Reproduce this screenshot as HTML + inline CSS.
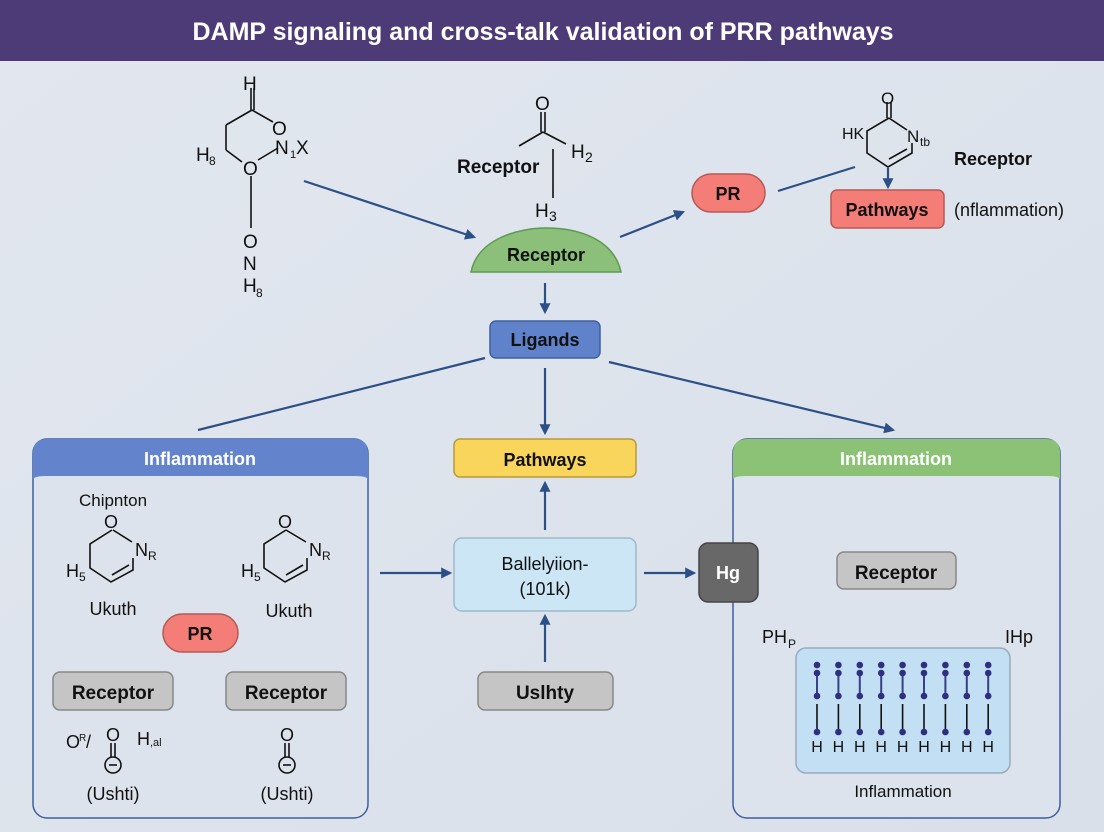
<!DOCTYPE html>
<html><head><meta charset="utf-8"><style>
html,body{margin:0;padding:0;width:1104px;height:832px;overflow:hidden;background:#dfe5ee;}
svg{display:block;font-family:"Liberation Sans",sans-serif;}
.b{font-weight:bold;}
</style></head><body>
<svg width="1104" height="832" viewBox="0 0 1104 832" xmlns="http://www.w3.org/2000/svg">
<defs>
<marker id="a" viewBox="0 0 10 10" refX="8" refY="5" markerWidth="5" markerHeight="5" orient="auto"><path d="M0,0L10,5L0,10z" fill="#2c4f86"/></marker>
<linearGradient id="bg" x1="0" y1="0" x2="1" y2="1"><stop offset="0" stop-color="#e2e7ef"/><stop offset="1" stop-color="#d9e0ea"/></linearGradient>
</defs>
<rect x="0" y="0" width="1104" height="832" fill="url(#bg)"/>
<rect x="0" y="0" width="1104" height="61" fill="#4d3b78"/>
<text x="543" y="40" text-anchor="middle" fill="#fff" font-size="25" class="b">DAMP signaling and cross-talk validation of PRR pathways</text>

<g stroke="#2c4f86" stroke-width="2.2" fill="none">
<line x1="304" y1="181" x2="474" y2="237" marker-end="url(#a)"/>
<line x1="620" y1="237" x2="683" y2="212" marker-end="url(#a)"/>
<line x1="778" y1="191" x2="855" y2="167"/>
<line x1="888" y1="168" x2="888" y2="187" marker-end="url(#a)"/>
<line x1="545" y1="283" x2="545" y2="312" marker-end="url(#a)"/>
<line x1="485" y1="358" x2="198" y2="430"/>
<line x1="545" y1="368" x2="545" y2="433" marker-end="url(#a)"/>
<line x1="609" y1="362" x2="893" y2="430" marker-end="url(#a)"/>
<line x1="545" y1="530" x2="545" y2="483" marker-end="url(#a)"/>
<line x1="545" y1="662" x2="545" y2="616" marker-end="url(#a)"/>
<line x1="380" y1="573" x2="450" y2="573" marker-end="url(#a)"/>
<line x1="644" y1="573" x2="694" y2="573" marker-end="url(#a)"/>
<line x1="902" y1="607" x2="902" y2="646" marker-end="url(#a)"/>
<line x1="113" y1="636" x2="113" y2="667" marker-end="url(#a)"/>
<line x1="287" y1="636" x2="287" y2="667" marker-end="url(#a)"/>
</g>

<!-- top left molecule -->
<g stroke="#111" stroke-width="1.6" fill="none">
<line x1="251" y1="88" x2="251" y2="110"/><line x1="254" y1="88" x2="254" y2="110"/>
<line x1="252" y1="110" x2="273" y2="122"/>
<line x1="252" y1="110" x2="226" y2="125"/>
<line x1="226" y1="125" x2="226" y2="150"/>
<line x1="226" y1="150" x2="242" y2="162"/>
<line x1="258" y1="160" x2="278" y2="148"/>
<line x1="251" y1="176" x2="251" y2="228"/>
</g>
<g font-size="19" fill="#111">
<text x="243" y="90">H</text>
<text x="272" y="135">O</text>
<text x="275" y="154">N</text><text x="290" y="158" font-size="11">1</text><text x="296" y="154">X</text>
<text x="196" y="161">H</text><text x="209" y="165" font-size="12">8</text>
<text x="243" y="175">O</text>
<text x="243" y="248">O</text>
<text x="243" y="270">N</text>
<text x="243" y="292">H</text><text x="256" y="297" font-size="12">8</text>
</g>

<!-- top middle molecule -->
<g stroke="#111" stroke-width="1.6" fill="none">
<line x1="541" y1="112" x2="541" y2="132"/><line x1="545" y1="112" x2="545" y2="132"/>
<line x1="543" y1="132" x2="519" y2="146"/>
<line x1="543" y1="132" x2="566" y2="144"/>
<line x1="553" y1="149" x2="553" y2="198"/>
</g>
<g font-size="19" fill="#111">
<text x="535" y="110">O</text>
<text x="571" y="158">H</text><text x="585" y="162" font-size="14">2</text>
<text x="535" y="217">H</text><text x="549" y="221" font-size="14">3</text>
</g>
<text x="457" y="173" font-size="19" class="b" fill="#111">Receptor</text>

<path d="M471,272 C478,238 520,228 546,228 C580,228 614,240 621,272 Z" fill="#8bbf7a" stroke="#5e9a52" stroke-width="1.5"/>
<text x="546" y="261" text-anchor="middle" font-size="18" class="b" fill="#111">Receptor</text>

<rect x="490" y="321" width="110" height="37" rx="6" fill="#5f82ca" stroke="#3f5f9f" stroke-width="1.5"/>
<text x="545" y="346" text-anchor="middle" font-size="18" class="b" fill="#111">Ligands</text>

<!-- top right -->
<rect x="692" y="174" width="73" height="38" rx="19" fill="#f47d78" stroke="#b55a55" stroke-width="1.5"/>
<text x="728" y="200" text-anchor="middle" font-size="18" class="b" fill="#111">PR</text>
<g stroke="#111" stroke-width="1.6" fill="none">
<line x1="887" y1="102" x2="887" y2="118"/><line x1="891" y1="102" x2="891" y2="118"/>
<line x1="889" y1="118" x2="907" y2="130"/>
<polyline points="889,118 867,131 867,153 888,167 912,153 912,143"/>
<line x1="889" y1="159" x2="907" y2="149"/>
</g>
<g font-size="17" fill="#111">
<text x="881" y="104">O</text>
<text x="842" y="139" font-size="16">HK</text>
<text x="907" y="142">N</text><text x="920" y="146" font-size="12">tb</text>
</g>
<text x="954" y="165" font-size="18" class="b" fill="#111">Receptor</text>
<rect x="831" y="190" width="113" height="38" rx="6" fill="#f47d78" stroke="#b55a55" stroke-width="1.5"/>
<text x="887" y="216" text-anchor="middle" font-size="18" class="b" fill="#111">Pathways</text>
<text x="954" y="216" font-size="18" fill="#111">(nflammation)</text>

<!-- Left panel -->
<rect x="33" y="439" width="335" height="379" rx="14" fill="#dde3ec" stroke="#3f5f9f" stroke-width="1.5"/>
<path d="M33,480 L33,453 Q33,439 47,439 L354,439 Q368,439 368,453 L368,480 Q368,476 355,476 L46,476 Q33,476 33,480Z" fill="#6384cc"/>
<text x="200" y="465" text-anchor="middle" font-size="18" class="b" fill="#fff">Inflammation</text>
<text x="113" y="506" text-anchor="middle" font-size="17" fill="#111">Chipnton</text>
<g stroke="#111" stroke-width="1.6" fill="none">
<polyline points="113,530 132,542"/>
<polyline points="112,530 90,544 90,568 111,582 133,570 133,558"/>
<line x1="112" y1="575" x2="129" y2="565"/>
<polyline points="286,530 306,542"/>
<polyline points="286,530 264,544 264,568 285,582 307,570 307,558"/>
<line x1="286" y1="575" x2="303" y2="565"/>
</g>
<g font-size="18" fill="#111">
<text x="104" y="528">O</text><text x="135" y="556">N</text><text x="148" y="560" font-size="12">R</text>
<text x="66" y="577">H</text><text x="79" y="581" font-size="12">5</text>
<text x="278" y="528">O</text><text x="309" y="556">N</text><text x="322" y="560" font-size="12">R</text>
<text x="241" y="577">H</text><text x="254" y="581" font-size="12">5</text>
<text x="113" y="615" text-anchor="middle">Ukuth</text>
<text x="289" y="617" text-anchor="middle">Ukuth</text>
</g>
<rect x="163" y="614" width="75" height="38" rx="19" fill="#f47d78" stroke="#b55a55" stroke-width="1.5"/>
<text x="200" y="640" text-anchor="middle" font-size="18" class="b" fill="#111">PR</text>
<rect x="53" y="672" width="120" height="38" rx="7" fill="#c5c5c5" stroke="#888" stroke-width="1.5"/>
<text x="113" y="699" text-anchor="middle" font-size="19" class="b" fill="#111">Receptor</text>
<rect x="226" y="672" width="120" height="38" rx="7" fill="#c5c5c5" stroke="#888" stroke-width="1.5"/>
<text x="286" y="699" text-anchor="middle" font-size="19" class="b" fill="#111">Receptor</text>
<g stroke="#111" stroke-width="1.6" fill="none">
<line x1="111" y1="743" x2="111" y2="757"/><line x1="115" y1="743" x2="115" y2="757"/>
<circle cx="113" cy="765" r="8"/><line x1="109" y1="765" x2="117" y2="765"/>
<line x1="285" y1="743" x2="285" y2="757"/><line x1="289" y1="743" x2="289" y2="757"/>
<circle cx="287" cy="765" r="8"/><line x1="283" y1="765" x2="291" y2="765"/>
</g>
<g font-size="18" fill="#111">
<text x="106" y="741">O</text><text x="280" y="741">O</text>
<text x="66" y="748">O</text><text x="79" y="741" font-size="10">R</text><text x="86" y="748">/</text>
<text x="137" y="745">H</text><text x="150" y="746" font-size="11">,al</text>
<text x="113" y="800" text-anchor="middle">(Ushti)</text>
<text x="287" y="800" text-anchor="middle">(Ushti)</text>
</g>

<!-- Center -->
<rect x="454" y="439" width="182" height="38" rx="6" fill="#f9d55c" stroke="#b89a3a" stroke-width="1.5"/>
<text x="545" y="466" text-anchor="middle" font-size="18" class="b" fill="#111">Pathways</text>
<rect x="454" y="538" width="182" height="73" rx="8" fill="#cde6f5" stroke="#9fb9c9" stroke-width="1.5"/>
<text x="545" y="570" text-anchor="middle" font-size="18" fill="#111">Ballelyiion-</text>
<text x="545" y="595" text-anchor="middle" font-size="18" fill="#111">(101k)</text>
<rect x="478" y="672" width="135" height="38" rx="7" fill="#c5c5c5" stroke="#888" stroke-width="1.5"/>
<text x="545" y="699" text-anchor="middle" font-size="19" class="b" fill="#111">Uslhty</text>

<!-- Right panel -->
<rect x="733" y="439" width="327" height="379" rx="14" fill="#dde3ec" stroke="#3f5f9f" stroke-width="1.5"/>
<path d="M733,480 L733,453 Q733,439 747,439 L1046,439 Q1060,439 1060,453 L1060,480 Q1060,476 1047,476 L746,476 Q733,476 733,480Z" fill="#8cc276"/>
<text x="896" y="465" text-anchor="middle" font-size="18" class="b" fill="#fff">Inflammation</text>
<rect x="699" y="543" width="59" height="59" rx="9" fill="#686868" stroke="#444" stroke-width="1.5"/>
<text x="728" y="579" text-anchor="middle" font-size="18" class="b" fill="#fff">Hg</text>
<rect x="837" y="552" width="119" height="37" rx="7" fill="#c5c5c5" stroke="#888" stroke-width="1.5"/>
<text x="896" y="579" text-anchor="middle" font-size="19" class="b" fill="#111">Receptor</text>
<text x="762" y="643" font-size="18" fill="#111">PH</text><text x="788" y="648" font-size="12" fill="#111">P</text>
<text x="1005" y="643" font-size="18" fill="#111">IHp</text>
<rect x="796" y="648" width="214" height="125" rx="10" fill="#c2dff3" stroke="#9ab" stroke-width="1.5"/>
<g id="col">
<line x1="817" y1="673" x2="817" y2="696" stroke="#3a3f8a" stroke-width="2"/>
<line x1="817" y1="704" x2="817" y2="729" stroke="#111" stroke-width="1.6"/>
<circle cx="817" cy="665" r="3.3" fill="#2f2f80"/>
<circle cx="817" cy="673" r="3.3" fill="#2f2f80"/>
<circle cx="817" cy="696" r="3.3" fill="#2f2f80"/>
<circle cx="817" cy="732" r="3.3" fill="#2f2f80"/>
<text x="817" y="752" text-anchor="middle" font-size="16" fill="#111">H</text>
</g>
<use href="#col" x="21.4"/><use href="#col" x="42.8"/><use href="#col" x="64.2"/><use href="#col" x="85.6"/>
<use href="#col" x="107"/><use href="#col" x="128.4"/><use href="#col" x="149.8"/><use href="#col" x="171.2"/>
<text x="903" y="797" text-anchor="middle" font-size="17" fill="#111">Inflammation</text>
</svg>
</body></html>
